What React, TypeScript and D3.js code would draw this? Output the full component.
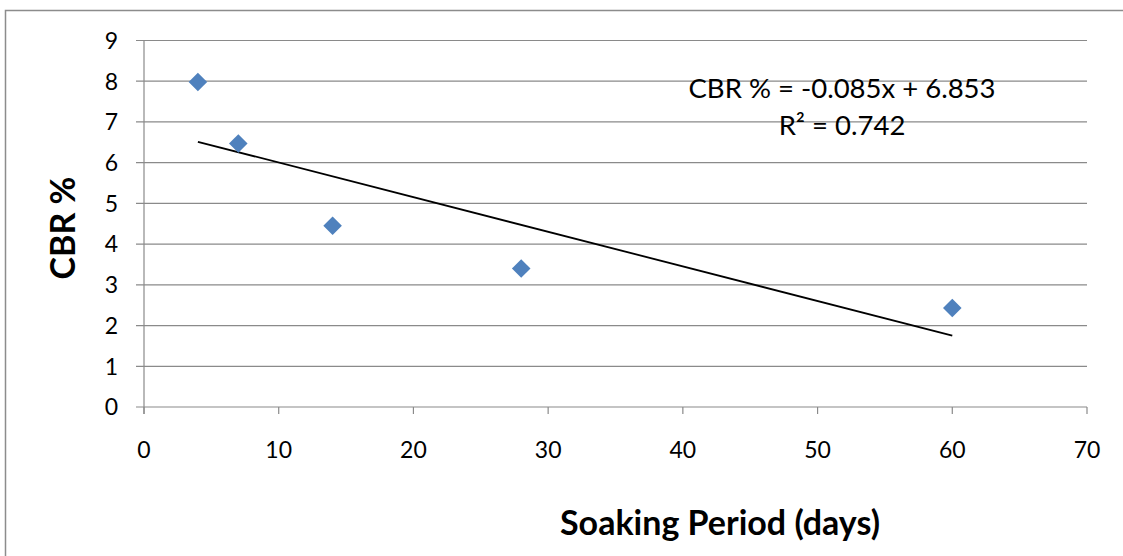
import React from "react";
import * as d3 from "d3";

const days = [4, 7, 14, 28, 60];
const cbr = [7.98, 6.47, 4.45, 3.4, 2.43];
const xTicks = [0, 10, 20, 30, 40, 50, 60, 70];
const yTicks = [0, 1, 2, 3, 4, 5, 6, 7, 8, 9];
const slope = -0.085;
const intercept = 6.853;
const eqLine1 = "CBR % = -0.085x + 6.853";
const eqLine2 = "R² = 0.742";
const xTitle = "Soaking Period (days)";
const yTitle = "CBR %";

const W = 1123;
const H = 556;
const FONT = "Lato, 'Open Sans', sans-serif";

export default function App() {
  const x = d3.scaleLinear().domain([0, 70]).range([144, 1087]);
  const y = d3.scaleLinear().domain([0, 9]).range([407, 40.5]);
  const trendX = [d3.min(days)!, d3.max(days)!];
  const line = d3
    .line<number>()
    .x((d) => x(d))
    .y((d) => y(slope * d + intercept));
  const diamond = d3.symbol().type(d3.symbolDiamond2).size(220)()!;
  const grid = "#8a8a8a";
  return (
    <svg
      width={W}
      height={H}
      style={{ position: "absolute", left: 0, top: 0, background: "#fff" }}
      fontFamily={FONT}
    >
      <rect x={5.5} y={10.5} width={W + 10} height={H + 10} fill="none" stroke="#8c8c8c" strokeWidth={1.5} />
      {yTicks.map((t) => (
        <g key={"y" + t}>
          <line x1={136} x2={x(70)} y1={y(t)} y2={y(t)} stroke={grid} strokeWidth={1.2} />
          <text x={118} y={y(t)} dy="0.36em" textAnchor="end" fontSize={23} fill="#000">
            {t}
          </text>
        </g>
      ))}
      <line x1={x(0)} x2={x(0)} y1={y(9)} y2={y(0) + 7} stroke={grid} strokeWidth={1.2} />
      {xTicks.map((t) => (
        <g key={"x" + t}>
          <line x1={x(t)} x2={x(t)} y1={y(0)} y2={y(0) + 7} stroke={grid} strokeWidth={1.2} />
          <text x={x(t)} y={458} textAnchor="middle" fontSize={23} fill="#000">
            {t}
          </text>
        </g>
      ))}
      <path d={line(trendX) || ""} stroke="#000" strokeWidth={1.8} fill="none" />
      {days.map((d, i) => (
        <path key={"p" + i} d={diamond} transform={`translate(${x(d)},${y(cbr[i])})`} fill="#4f81bd" />
      ))}
      <text x={842} y={98} textAnchor="middle" fontSize={27.5} fill="#000">
        {eqLine1}
      </text>
      <text x={842} y={135} textAnchor="middle" fontSize={27.5} fill="#000">
        {eqLine2}
      </text>
      <text x={720} y={535} textAnchor="middle" fontSize={34} fontWeight="bold" fill="#000">
        {xTitle}
      </text>
      <text
        transform={`translate(75,228) rotate(-90)`}
        textAnchor="middle"
        fontSize={34}
        fontWeight="bold"
        fill="#000"
      >
        {yTitle}
      </text>
    </svg>
  );
}
